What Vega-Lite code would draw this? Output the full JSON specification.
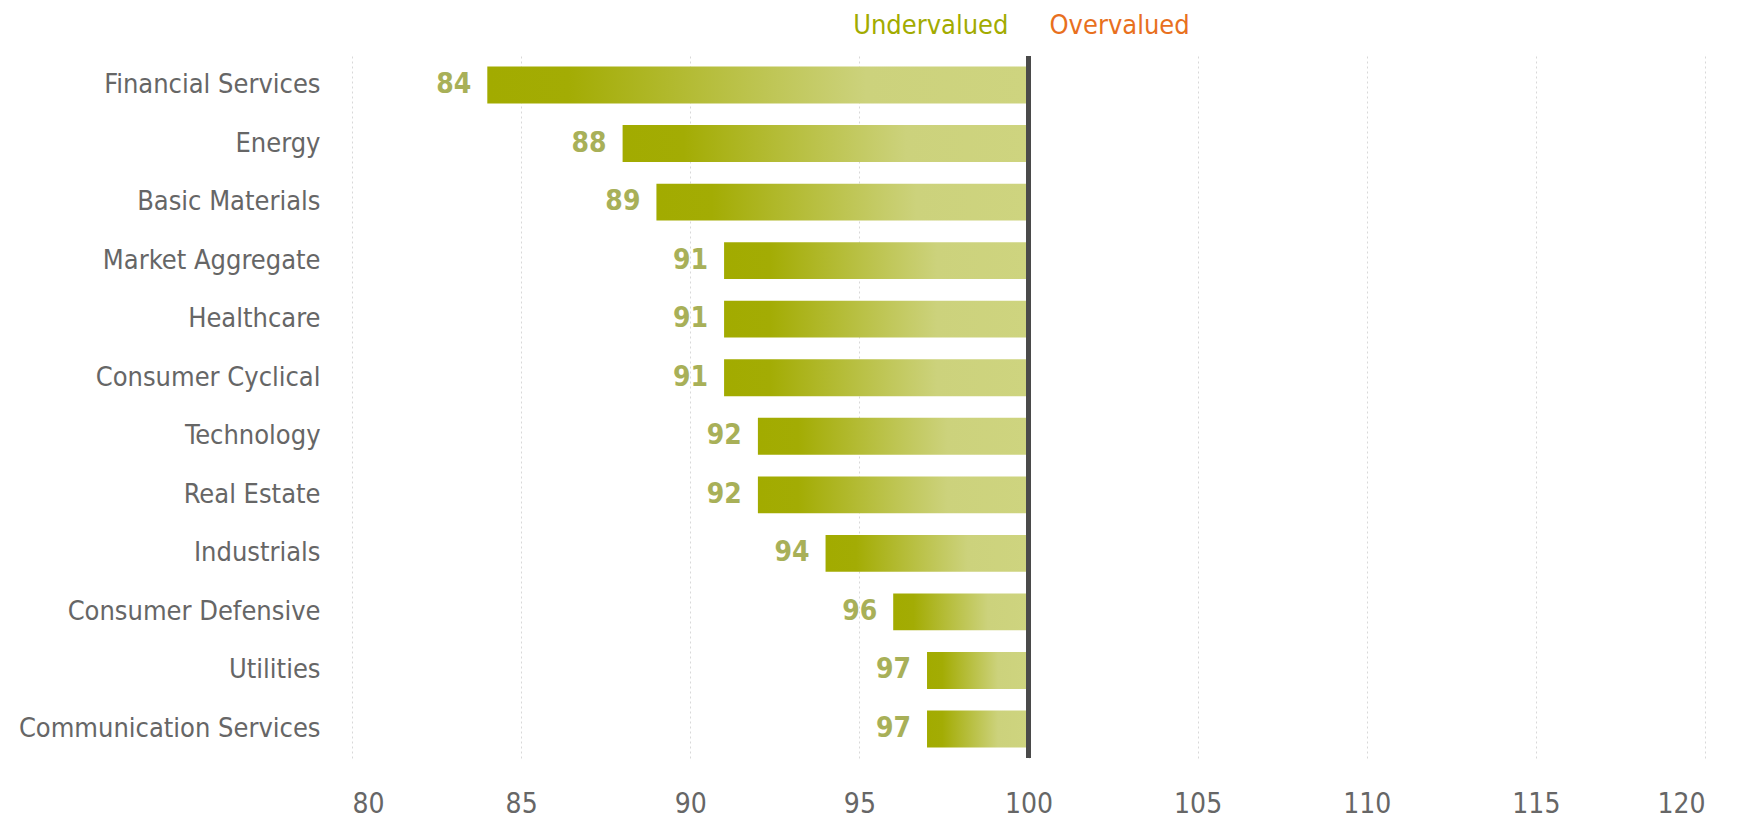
{
  "$schema": "https://vega.github.io/schema/vega-lite/v6.json",
  "autosize": "none",
  "padding": {"left": 352, "top": 56, "right": 47, "bottom": 61},
  "width": 1353,
  "height": 702,
  "background": "white",
  "config": {
    "view": {"stroke": null},
    "font": "'DejaVu Sans Condensed', Roboto, sans-serif"
  },
  "datasets": {
    "sectors": [
      {"sector": "Financial Services", "value": 84},
      {"sector": "Energy", "value": 88},
      {"sector": "Basic Materials", "value": 89},
      {"sector": "Market Aggregate", "value": 91},
      {"sector": "Healthcare", "value": 91},
      {"sector": "Consumer Cyclical", "value": 91},
      {"sector": "Technology", "value": 92},
      {"sector": "Real Estate", "value": 92},
      {"sector": "Industrials", "value": 94},
      {"sector": "Consumer Defensive", "value": 96},
      {"sector": "Utilities", "value": 97},
      {"sector": "Communication Services", "value": 97}
    ],
    "headers": [
      {"label": "Undervalued", "v": 100, "sector": "Financial Services", "side": "under"},
      {"label": "Overvalued", "v": 100, "sector": "Financial Services", "side": "over"}
    ]
  },
  "encoding": {
    "y": {
      "field": "sector",
      "type": "nominal",
      "sort": null,
      "scale": {"paddingInner": 0.37, "paddingOuter": 0.18},
      "axis": {
        "title": null,
        "domain": false,
        "ticks": false,
        "labelFontSize": 27,
        "labelColor": "#666666",
        "labelPadding": 32,
        "labelFont": "'DejaVu Sans Condensed', Roboto, sans-serif",
        "labelLimit": 400
      }
    }
  },
  "layer": [
    {
      "data": {"name": "sectors"},
      "mark": {
        "type": "bar",
        "color": {
          "gradient": "linear",
          "x1": 0, "x2": 1, "y1": 0, "y2": 0,
          "stops": [
            {"offset": 0, "color": "#a2ab00"},
            {"offset": 0.15, "color": "#a3ac04"},
            {"offset": 0.7, "color": "#ccd27c"},
            {"offset": 1, "color": "#ced47f"}
          ]
        }
      },
      "encoding": {
        "x": {
          "field": "value",
          "type": "quantitative",
          "scale": {"domain": [80, 120], "nice": false, "zero": false},
          "axis": {
            "title": null,
            "values": [80, 85, 90, 95, 100, 105, 110, 115, 120],
            "domain": false,
            "ticks": false,
            "grid": true,
            "gridColor": "#d8d8d8",
            "gridDash": [2, 3],
            "gridWidth": 1,
            "labelFontSize": 28,
            "labelColor": "#666666",
            "labelPadding": 32,
            "labelFont": "'DejaVu Sans Condensed', Roboto, sans-serif"
          }
        },
        "x2": {"datum": 100}
      }
    },
    {
      "data": {"name": "sectors"},
      "mark": {
        "type": "text",
        "align": "right",
        "baseline": "middle",
        "dx": -16,
        "fontSize": 28,
        "fontWeight": "bold",
        "color": "#a8b058",
        "font": "'DejaVu Sans Condensed', Roboto, sans-serif"
      },
      "encoding": {
        "x": {"field": "value", "type": "quantitative"},
        "text": {"field": "value", "type": "quantitative"}
      }
    },
    {
      "data": {"name": "sectors"},
      "mark": {"type": "rule", "color": "#4a4a4a", "strokeWidth": 5},
      "encoding": {"x": {"datum": 100}, "y": null}
    },
    {
      "data": {"name": "headers"},
      "transform": [{"filter": "datum.side === 'under'"}],
      "mark": {
        "type": "text",
        "align": "right",
        "baseline": "middle",
        "dx": -20,
        "dy": -59,
        "fontSize": 27,
        "color": "#a2ab00",
        "font": "'DejaVu Sans Condensed', Roboto, sans-serif"
      },
      "encoding": {
        "x": {"field": "v", "type": "quantitative"},
        "text": {"field": "label"}
      }
    },
    {
      "data": {"name": "headers"},
      "transform": [{"filter": "datum.side === 'over'"}],
      "mark": {
        "type": "text",
        "align": "left",
        "baseline": "middle",
        "dx": 21,
        "dy": -59,
        "fontSize": 27,
        "color": "#e8701e",
        "font": "'DejaVu Sans Condensed', Roboto, sans-serif"
      },
      "encoding": {
        "x": {"field": "v", "type": "quantitative"},
        "text": {"field": "label"}
      }
    }
  ]
}
